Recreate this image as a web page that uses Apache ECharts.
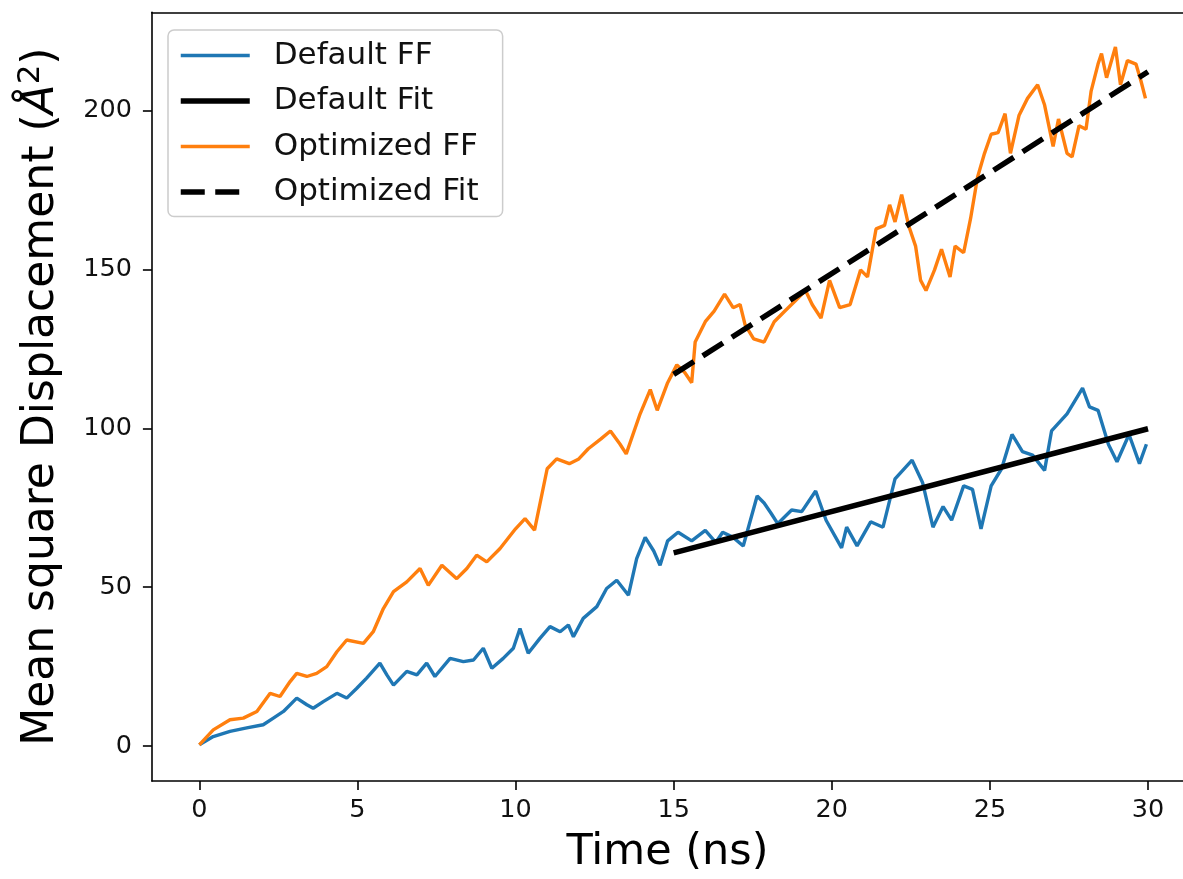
<!DOCTYPE html>
<html>
<head>
<meta charset="utf-8">
<script src="https://cdn.jsdelivr.net/npm/echarts@6/dist/echarts.min.js"></script>
<style>
html,body{margin:0;padding:0;background:#fff;}
#chart{width:1183px;height:879px;}
</style>
</head>
<body>
<div id="chart"></div>
<script>
// ---- data ----
const defaultTime = [0, 0.44, 0.97, 1.5, 2.02, 2.34, 2.66, 3.08, 3.4, 3.6, 3.92, 4.35, 4.66, 4.98, 5.29, 5.71, 5.93, 6.14, 6.56, 6.88, 7.19, 7.45, 7.93, 8.35, 8.67, 8.98, 9.25, 9.61, 9.93, 10.14, 10.4, 10.77, 11.09, 11.41, 11.67, 11.83, 12.14, 12.57, 12.88, 13.2, 13.57, 13.83, 14.1, 14.37, 14.57, 14.81, 15.14, 15.57, 16.0, 16.33, 16.55, 16.88, 17.2, 17.64, 17.86, 18.08, 18.29, 18.73, 19.05, 19.49, 19.82, 20.31, 20.47, 20.8, 21.23, 21.62, 22.0, 22.54, 22.87, 23.2, 23.52, 23.79, 24.17, 24.45, 24.72, 25.04, 25.37, 25.7, 26.03, 26.35, 26.73, 26.95, 27.44, 27.93, 28.15, 28.42, 28.75, 29.02, 29.4, 29.73, 29.95];
const defaultMSD = [0.4, 3.0, 4.6, 5.7, 6.7, 8.8, 10.9, 15.1, 13, 11.9, 14, 16.6, 15.1, 18.2, 21.4, 26.1, 22.4, 19.2, 23.5, 22.4, 26.1, 21.9, 27.6, 26.6, 27.1, 30.8, 24.5, 27.6, 30.8, 37.0, 29.2, 33.9, 37.6, 36, 38.1, 34.4, 40.2, 43.9, 49.6, 52.2, 47.5, 59, 65.7, 61.4, 56.9, 64.6, 67.3, 64.6, 67.9, 64.1, 67.3, 65.7, 63.0, 78.7, 76.5, 73.3, 70, 74.3, 73.8, 80.3, 71.1, 62.4, 68.9, 63.0, 70.6, 68.9, 84.1, 90.0, 83, 68.9, 75.4, 71.1, 81.9, 80.8, 68.4, 81.9, 87.3, 98.1, 92.7, 91.6, 86.8, 99.2, 104.6, 112.7, 106.8, 105.7, 94.9, 89.5, 98.1, 88.9, 95];
const optimizedTime = [0, 0.44, 0.97, 1.39, 1.82, 2.24, 2.55, 2.87, 3.08, 3.4, 3.71, 4.03, 4.35, 4.66, 5.19, 5.5, 5.82, 6.14, 6.56, 6.98, 7.24, 7.67, 8.14, 8.46, 8.77, 9.09, 9.51, 10.0, 10.3, 10.6, 11.0, 11.3, 11.7, 12.0, 12.3, 12.7, 13.0, 13.3, 13.5, 13.94, 14.26, 14.48, 14.81, 15.1, 15.35, 15.57, 15.68, 16.0, 16.28, 16.61, 16.88, 17.1, 17.26, 17.53, 17.86, 18.18, 18.51, 18.84, 19.17, 19.38, 19.66, 19.93, 20.25, 20.58, 20.91, 21.13, 21.4, 21.67, 21.83, 22.0, 22.21, 22.43, 22.65, 22.81, 22.98, 23.25, 23.47, 23.74, 23.9, 24.17, 24.39, 24.61, 24.83, 25.04, 25.26, 25.48, 25.65, 25.92, 26.19, 26.51, 26.73, 27.0, 27.17, 27.44, 27.6, 27.82, 28.04, 28.2, 28.42, 28.53, 28.69, 28.97, 29.13, 29.35, 29.62, 29.78, 29.92];
const optimizedMSD = [0.4, 5.1, 8.3, 8.8, 10.9, 16.6, 15.6, 20.3, 22.9, 21.9, 22.9, 25, 29.7, 33.4, 32.3, 36, 43.3, 48.6, 51.7, 55.9, 50.6, 56.9, 52.7, 55.9, 60.1, 58, 62.2, 68.4, 71.6, 68, 87.3, 90.4, 88.9, 90.4, 93.6, 96.7, 99.2, 95.1, 92, 104.6, 112.2, 105.7, 114.4, 120, 117.6, 114.4, 127.2, 133.6, 136.9, 142.3, 138, 139, 132.6, 128.2, 127.2, 133.6, 136.9, 140.1, 143.4, 139, 134.7, 146.6, 138, 139, 149.9, 147.7, 162.8, 163.9, 170.4, 165, 173.6, 163.9, 157.4, 146.6, 143.4, 149.9, 156.4, 147.7, 157.4, 155.3, 166.1, 179.1, 186.6, 192.6, 193.1, 199.1, 186.6, 198.5, 203.9, 208.2, 201.8, 188.8, 197.4, 186.6, 185.5, 195.3, 194.2, 206.1, 214.7, 218, 210.4, 220.1, 208.2, 215.8, 214.7, 209.3, 203.9];
const fitTime = [15, 30];
const defaultFit = [60.8, 99.9];
const optimizedFit = [117.0, 212.3];
const seriesNames = ['Default FF', 'Default Fit', 'Optimized FF', 'Optimized Fit'];
const xTicks = [0, 5, 10, 15, 20, 25, 30];
const yTicks = [0, 50, 100, 150, 200];

const zip = (xs, ys) => xs.map((x, i) => [x, ys[i]]);
const FONT = 'DejaVu Sans';
const spine = { color: '#000', width: 1.6 };

const chart = echarts.init(document.getElementById('chart'), null, { renderer: 'canvas' });
chart.setOption({
  animation: false,
  backgroundColor: '#fff',
  grid: { left: 151.9, top: 12.3, right: 0, bottom: 95.5, show: false, containLabel: false },
  legend: {
    orient: 'vertical',
    left: 168, top: 30,
    data: seriesNames,
    itemWidth: 69, itemHeight: 14, itemGap: 14.5,
    padding: [10, 24, 9, 10],
    backgroundColor: 'rgba(255,255,255,0.8)',
    borderColor: '#cccccc', borderWidth: 1.5, borderRadius: 6,
    itemStyle: { color: 'rgba(0,0,0,0)', borderWidth: 0, borderColor: 'rgba(0,0,0,0)' },
    lineStyle: { width: 'inherit' },
    textStyle: { fontFamily: FONT, fontSize: 31, color: '#111', padding: [0, 0, 0, 19] },
    selectedMode: false
  },
  xAxis: [{
    type: 'value', min: -1.5, max: 31.107, position: 'bottom',
    name: 'Time (ns)', nameLocation: 'middle', nameGap: 50,
    nameTextStyle: { fontFamily: FONT, fontSize: 43, color: '#000' },
    axisLine: { show: true, onZero: false, lineStyle: spine },
    axisTick: { show: true, length: 9, lineStyle: spine, customValues: xTicks },
    axisLabel: { customValues: xTicks, fontFamily: FONT, fontSize: 25.5, color: '#111', margin: 16 },
    splitLine: { show: false }
  }, {
    type: 'value', min: -1.5, max: 31.107, position: 'top',
    axisLine: { show: true, onZero: false, lineStyle: spine },
    axisTick: { show: false }, axisLabel: { show: false }, splitLine: { show: false }
  }],
  yAxis: {
    type: 'value', min: -11, max: 231,
    name: 'Mean square Displacement ({i|Å}{sup|2})', nameLocation: 'middle', nameGap: 84, nameRotate: 90,
    nameTextStyle: {
      fontFamily: FONT, fontSize: 44, color: '#000',
      rich: {
        i: { fontFamily: FONT, fontSize: 44, fontStyle: 'italic', color: '#000' },
        sup: { fontFamily: FONT, fontSize: 31, color: '#000', padding: [0, 0, 21, 0] }
      }
    },
    axisLine: { show: true, onZero: false, lineStyle: spine },
    axisTick: { show: true, length: 9, lineStyle: spine, customValues: yTicks },
    axisLabel: { customValues: yTicks, fontFamily: FONT, fontSize: 25.5, color: '#111', margin: 20 },
    splitLine: { show: false }
  },
  series: [
    { name: seriesNames[0], type: 'line', data: zip(defaultTime, defaultMSD), symbol: 'none', showSymbol: false,
      lineStyle: { color: '#1f77b4', width: 3.4 }, itemStyle: { color: '#1f77b4' }, z: 2 },
    { name: seriesNames[1], type: 'line', data: zip(fitTime, defaultFit), symbol: 'none', showSymbol: false,
      lineStyle: { color: '#000', width: 5.5 }, itemStyle: { color: '#000' }, z: 3 },
    { name: seriesNames[2], type: 'line', data: zip(optimizedTime, optimizedMSD), symbol: 'none', showSymbol: false,
      lineStyle: { color: '#ff7f0e', width: 3.4 }, itemStyle: { color: '#ff7f0e' }, z: 4 },
    { name: seriesNames[3], type: 'line', data: zip(fitTime, optimizedFit), symbol: 'none', showSymbol: false,
      lineStyle: { color: '#000', width: 5.5, type: [24, 10.5] }, itemStyle: { color: '#000' }, z: 5 }
  ]
});
</script>
</body>
</html>
